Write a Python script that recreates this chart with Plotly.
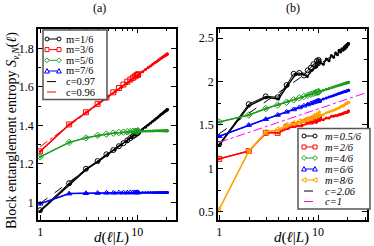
import math
import plotly.graph_objects as go

# ---------------- data ----------------
# chord distances d(l|L) for L=32 and L=64
d32 = [0.998, 1.987, 2.957, 3.898, 4.802, 5.659, 6.462, 7.203, 7.874, 8.469,
       8.983, 9.411, 9.747, 9.990, 10.137, 10.186]
d64 = [1.000, 1.997, 2.989, 3.974, 4.950, 5.914, 6.863, 7.796, 8.710, 9.603,
       10.473, 11.318, 12.136, 12.924, 13.681, 14.405, 15.095, 15.748, 16.363,
       16.939, 17.474, 17.967, 18.416, 18.821, 19.181, 19.495, 19.761, 19.981,
       20.152, 20.274, 20.348, 20.372]

# panel (a)
a_labels = ["m=1/6", "m=3/6", "m=5/6", "m=7/6"]
a_m1_32 = [0.96, 1.10, 1.175, 1.215, 1.25, 1.272, 1.292, 1.308, 1.322, 1.334,
           1.343, 1.35, 1.356, 1.36, 1.362, 1.363]
a_m1_64 = [0.955, 1.095, 1.172, 1.213, 1.248, 1.275, 1.298, 1.318, 1.336, 1.352,
           1.366, 1.379, 1.391, 1.402, 1.412, 1.421, 1.429, 1.437, 1.444, 1.450,
           1.456, 1.461, 1.465, 1.469, 1.472, 1.475, 1.477, 1.479, 1.480, 1.481,
           1.482, 1.482]
a_m3_32 = [1.265, 1.405, 1.468, 1.512, 1.545, 1.572, 1.594, 1.612, 1.627, 1.638,
           1.647, 1.654, 1.659, 1.662, 1.664, 1.665]
a_m3_64 = [1.265, 1.405, 1.468, 1.512, 1.547, 1.575, 1.598, 1.618, 1.636, 1.652,
           1.666, 1.679, 1.690, 1.700, 1.709, 1.717, 1.725, 1.731, 1.737, 1.743,
           1.747, 1.752, 1.756, 1.759, 1.762, 1.764, 1.766, 1.768, 1.769, 1.770,
           1.770, 1.771]
a_m5_32 = [1.237, 1.312, 1.335, 1.348, 1.355, 1.36, 1.363, 1.365, 1.367, 1.368,
           1.369, 1.37, 1.37, 1.37, 1.371, 1.371]
a_m5_64 = [1.237, 1.312, 1.336, 1.348, 1.355, 1.36, 1.363, 1.365, 1.367, 1.368,
           1.369, 1.37, 1.37, 1.371, 1.371, 1.371, 1.372, 1.372, 1.372, 1.372,
           1.372, 1.372, 1.372, 1.372, 1.372, 1.372, 1.372, 1.372, 1.372, 1.372,
           1.372, 1.372]
a_m7_32 = [0.993, 1.046, 1.048, 1.049, 1.050, 1.050, 1.051, 1.051, 1.051, 1.052,
           1.052, 1.052, 1.052, 1.052, 1.052, 1.052]
a_m7_64 = [0.993, 1.046, 1.048, 1.049, 1.050, 1.050, 1.051, 1.051, 1.051, 1.052,
           1.052, 1.052, 1.052, 1.052, 1.052, 1.052, 1.052, 1.052, 1.052, 1.052,
           1.052, 1.052, 1.052, 1.052, 1.052, 1.052, 1.052, 1.052, 1.052, 1.052,
           1.052, 1.052]
a_fit_labels = ["c=0.97", "c=0.96"]
a_fit1_x = [1.0, 20.372]
a_fit1_y = [0.995, 1.48]
a_fit2_x = [1.0, 20.372]
a_fit2_y = [1.29, 1.77]

# panel (b)
b_labels = ["m=0.5/6", "m=2/6", "m=4/6", "m=6/6", "m=8/6"]
b_m05_32 = [1.28, 1.74, 1.83, 1.82, 1.96, 2.09, 2.10, 2.07, 2.13, 2.16,
            2.20, 2.18, 2.24, 2.21, 2.25, 2.23]
b_m05_64 = [1.27, 1.72, 1.82, 1.80, 1.96, 2.08, 2.09, 2.06, 2.13, 2.17,
            2.22, 2.20, 2.26, 2.24, 2.30, 2.28, 2.33, 2.31, 2.36, 2.34,
            2.38, 2.36, 2.40, 2.38, 2.42, 2.40, 2.43, 2.42, 2.44, 2.43,
            2.44, 2.44]
b_m2_32 = [1.11, 1.20, 1.41, 1.41, 1.48, 1.50, 1.51, 1.53, 1.55, 1.54,
           1.57, 1.56, 1.58, 1.57, 1.59, 1.58]
b_m2_64 = [1.11, 1.20, 1.41, 1.41, 1.46, 1.49, 1.49, 1.52, 1.53, 1.53,
           1.56, 1.56, 1.58, 1.58, 1.60, 1.60, 1.61, 1.61, 1.62, 1.62,
           1.63, 1.63, 1.64, 1.64, 1.645, 1.645, 1.65, 1.65, 1.655, 1.655,
           1.66, 1.66]
b_m4_32 = [1.535, 1.615, 1.69, 1.73, 1.763, 1.79, 1.812, 1.829, 1.843, 1.855,
           1.864, 1.871, 1.877, 1.88, 1.882, 1.883]
b_m4_64 = [1.535, 1.615, 1.69, 1.735, 1.77, 1.798, 1.821, 1.842, 1.859, 1.874,
           1.888, 1.9, 1.911, 1.92, 1.93, 1.939, 1.946, 1.953, 1.959, 1.964,
           1.969, 1.973, 1.977, 1.98, 1.983, 1.985, 1.987, 1.989, 1.99, 1.991,
           1.992, 1.993]
b_m6_32 = [1.37, 1.499, 1.567, 1.615, 1.651, 1.679, 1.702, 1.721, 1.736, 1.749,
           1.759, 1.767, 1.773, 1.777, 1.78, 1.78]
b_m6_64 = [1.37, 1.50, 1.569, 1.618, 1.656, 1.687, 1.713, 1.735, 1.754, 1.77,
           1.785, 1.799, 1.811, 1.822, 1.831, 1.84, 1.848, 1.856, 1.862, 1.868,
           1.874, 1.879, 1.883, 1.887, 1.89, 1.893, 1.895, 1.897, 1.898, 1.899,
           1.9, 1.9]
b_m8_32 = [0.53, 1.20, 1.42, 1.45, 1.50, 1.52, 1.54, 1.55, 1.57, 1.58,
           1.60, 1.60, 1.62, 1.62, 1.63, 1.63]
b_m8_64 = [0.53, 1.20, 1.42, 1.44, 1.49, 1.51, 1.53, 1.55, 1.57, 1.59,
           1.61, 1.62, 1.64, 1.65, 1.66, 1.67, 1.68, 1.69, 1.70, 1.71,
           1.72, 1.72, 1.73, 1.74, 1.745, 1.75, 1.75, 1.755, 1.76, 1.76,
           1.76, 1.762]
b_fit_labels = ["c=2.06", "c=1"]
b_fit1_x = [1.0, 20.372]
b_fit1_y = [1.40, 2.43]
b_fit2_x = [1.0, 31.0]
b_fit2_y = [1.30, 1.873]

# ---------------- styling ----------------
W, H = 374, 246
SERIF = "Liberation Serif"
BLACK, RED, GREEN, BLUE, ORANGE, MAGENTA = "#000000", "#ff0000", "#1e9e1e", "#0000ff", "#ffa500", "#ff00ff"


def PX(x):
    return x / W


def PY(y):
    return 1 - y / H


fig = go.Figure()


def add_series(xa, ya, d_small, y_small, d_big, y_big, color, symbol):
    fig.add_trace(go.Scatter(x=d_small, y=y_small, mode="lines+markers",
                             line=dict(color=color, width=1.5),
                             marker=dict(size=3, color=color, symbol="circle"),
                             xaxis=xa, yaxis=ya, showlegend=False))
    fig.add_trace(go.Scatter(x=d_big, y=y_big, mode="lines+markers",
                             line=dict(color=color, width=1),
                             marker=dict(size=5, color=color, symbol=symbol + "-open",
                                         line=dict(width=1, color=color)),
                             xaxis=xa, yaxis=ya, showlegend=False))


# panel (a)
a_cols = [BLACK, RED, GREEN, BLUE]
a_syms = ["circle", "square", "diamond", "triangle-up"]
for y32, y64, c, s in zip([a_m1_32, a_m3_32, a_m5_32, a_m7_32],
                          [a_m1_64, a_m3_64, a_m5_64, a_m7_64], a_cols, a_syms):
    add_series("x", "y", d64, y64, d32, y32, c, s)
fig.add_trace(go.Scatter(x=a_fit1_x, y=a_fit1_y, mode="lines",
                         line=dict(color=BLACK, width=1, dash="dash"),
                         xaxis="x", yaxis="y", showlegend=False))
fig.add_trace(go.Scatter(x=a_fit2_x, y=a_fit2_y, mode="lines",
                         line=dict(color=RED, width=1, dash="dashdot"),
                         xaxis="x", yaxis="y", showlegend=False))

# panel (b)
b_cols = [BLACK, RED, GREEN, BLUE, ORANGE]
b_syms = ["circle", "square", "diamond", "triangle-up", "triangle-left"]
for y32, y64, c, s in zip([b_m05_32, b_m2_32, b_m4_32, b_m6_32, b_m8_32],
                          [b_m05_64, b_m2_64, b_m4_64, b_m6_64, b_m8_64], b_cols, b_syms):
    add_series("x2", "y2", d64, y64, d32, y32, c, s)
fig.add_trace(go.Scatter(x=b_fit1_x, y=b_fit1_y, mode="lines",
                         line=dict(color=BLACK, width=1, dash="dash"),
                         xaxis="x2", yaxis="y2", showlegend=False))
fig.add_trace(go.Scatter(x=b_fit2_x, y=b_fit2_y, mode="lines",
                         line=dict(color=MAGENTA, width=1, dash="dashdot"),
                         xaxis="x2", yaxis="y2", showlegend=False))

# axes
common = dict(showline=True, linecolor="black", linewidth=1.5, mirror="allticks",
              ticks="inside", ticklen=5, tickwidth=1, tickcolor="black",
              showgrid=False, zeroline=False, automargin=False,
              tickfont=dict(family=SERIF, size=12, color="black"))
xlog = dict(type="log", dtick=1,
            minor=dict(ticks="inside", ticklen=3, tickcolor="black", dtick="D1", showgrid=False))
fig.update_layout(
    xaxis=dict(domain=[PX(38), PX(176)], range=[math.log10(0.95), math.log10(25)],
               anchor="y", **xlog, **common),
    yaxis=dict(domain=[PY(220), PY(28.5)], range=[0.909, 1.903], dtick=0.2, tick0=0,
               anchor="x", minor=dict(ticks="inside", ticklen=3, dtick=0.1, tickcolor="black"),
               **common),
    xaxis2=dict(domain=[PX(218), PX(366.5)], range=[math.log10(0.97), math.log10(31)],
                anchor="y2", **xlog, **common),
    yaxis2=dict(domain=[PY(220), PY(28.5)], range=[0.405, 2.612], dtick=0.5, tick0=0,
                anchor="x2", minor=dict(ticks="inside", ticklen=3, dtick=0.25, tickcolor="black"),
                **common),
)

# ---------------- custom legends ----------------
shapes = []
annos = []


def marker_shape(sym, cx, cy, color, r=2.0):
    x0, x1 = PX(cx - r), PX(cx + r)
    y0, y1 = PY(cy + r), PY(cy - r)
    ln = dict(color=color, width=1)
    if sym == "circle":
        return dict(type="circle", xref="paper", yref="paper", x0=x0, x1=x1, y0=y0, y1=y1,
                    line=ln, fillcolor="white")
    if sym == "square":
        return dict(type="rect", xref="paper", yref="paper", x0=x0, x1=x1, y0=y0, y1=y1,
                    line=ln, fillcolor="white")
    if sym == "diamond":
        pts = [(cx, cy - r * 1.2), (cx + r * 1.2, cy), (cx, cy + r * 1.2), (cx - r * 1.2, cy)]
    elif sym == "triangle-up":
        pts = [(cx, cy - r * 1.2), (cx + r * 1.2, cy + r), (cx - r * 1.2, cy + r)]
    else:  # triangle-left
        pts = [(cx - r * 1.2, cy), (cx + r, cy - r * 1.2), (cx + r, cy + r * 1.2)]
    path = "M " + " L ".join(f"{PX(a):.5f},{PY(b):.5f}" for a, b in pts) + " Z"
    return dict(type="path", xref="paper", yref="paper", path=path, line=ln, fillcolor="white")


def build_legend(box, rows, sx0, sx1, tx, items, italic, fsize):
    shapes.append(dict(type="rect", xref="paper", yref="paper",
                       x0=PX(box[0]), x1=PX(box[2]), y0=PY(box[3]), y1=PY(box[1]),
                       line=dict(color="#555555", width=1.5), fillcolor="white", layer="above"))
    for yy, (label, color, sym, dash) in zip(rows, items):
        shapes.append(dict(type="line", xref="paper", yref="paper",
                           x0=PX(sx0), x1=PX(sx1), y0=PY(yy), y1=PY(yy),
                           line=dict(color=color, width=1, dash=dash)))
        if sym:
            shapes.append(marker_shape(sym, sx0, yy, color))
            shapes.append(marker_shape(sym, sx1, yy, color))
        txt = f"<i>{label}</i>" if italic else label
        annos.append(dict(x=PX(tx), y=PY(yy), xref="paper", yref="paper", text=txt,
                          showarrow=False, xanchor="left", yanchor="middle",
                          borderpad=0, height=9,
                          font=dict(family=SERIF, size=fsize, color="black")))


a_items = [(l, c, s, "solid") for l, c, s in zip(a_labels, a_cols, a_syms)]
a_items += [(a_fit_labels[0], BLACK, None, "dash"), (a_fit_labels[1], RED, None, "dashdot")]
build_legend((43, 30, 107, 99.5), [39, 49.6, 60.3, 71, 81.6, 92], 47, 59, 65, a_items, False, 10.5)

b_items = [(l, c, s, "solid") for l, c, s in zip(b_labels, b_cols, b_syms)]
b_items += [(b_fit_labels[0], BLACK, None, "dash"), (b_fit_labels[1], MAGENTA, None, "dashdot")]
build_legend((298, 128.5, 370, 209), [136, 147, 158, 169, 180, 191, 201.5], 304, 315, 324,
             b_items, True, 10.5)

# titles
annos.append(dict(x=PX(99), y=PY(8), xref="paper", yref="paper", text="(a)", showarrow=False,
                  xanchor="center", yanchor="middle", font=dict(family=SERIF, size=12, color="black")))
annos.append(dict(x=PX(293), y=PY(8), xref="paper", yref="paper", text="(b)", showarrow=False,
                  xanchor="center", yanchor="middle", font=dict(family=SERIF, size=12, color="black")))
xt = "<i>d</i>(<i>ℓ</i>|<i>L</i>)"
annos.append(dict(x=PX(112), y=PY(237.5), xref="paper", yref="paper", text=xt, showarrow=False,
                  xanchor="center", yanchor="middle", font=dict(family=SERIF, size=15, color="black")))
annos.append(dict(x=PX(291), y=PY(237.5), xref="paper", yref="paper", text=xt, showarrow=False,
                  xanchor="center", yanchor="middle", font=dict(family=SERIF, size=15, color="black")))
annos.append(dict(x=PX(12), y=PY(131), xref="paper", yref="paper",
                  text="Block entanglement entropy <i>S</i><sub><i>v,N</i></sub>(<i>ℓ</i>)",
                  showarrow=False, textangle=-90, xanchor="center", yanchor="middle",
                  font=dict(family=SERIF, size=14, color="black")))

fig.update_layout(width=W, height=H, margin=dict(l=0, r=0, t=0, b=0),
                  paper_bgcolor="white", plot_bgcolor="white",
                  shapes=shapes, annotations=annos, showlegend=False)

fig.write_html("out.html", config={"displayModeBar": False},
               post_script="document.body.style.margin='0';document.body.style.padding='0';")
